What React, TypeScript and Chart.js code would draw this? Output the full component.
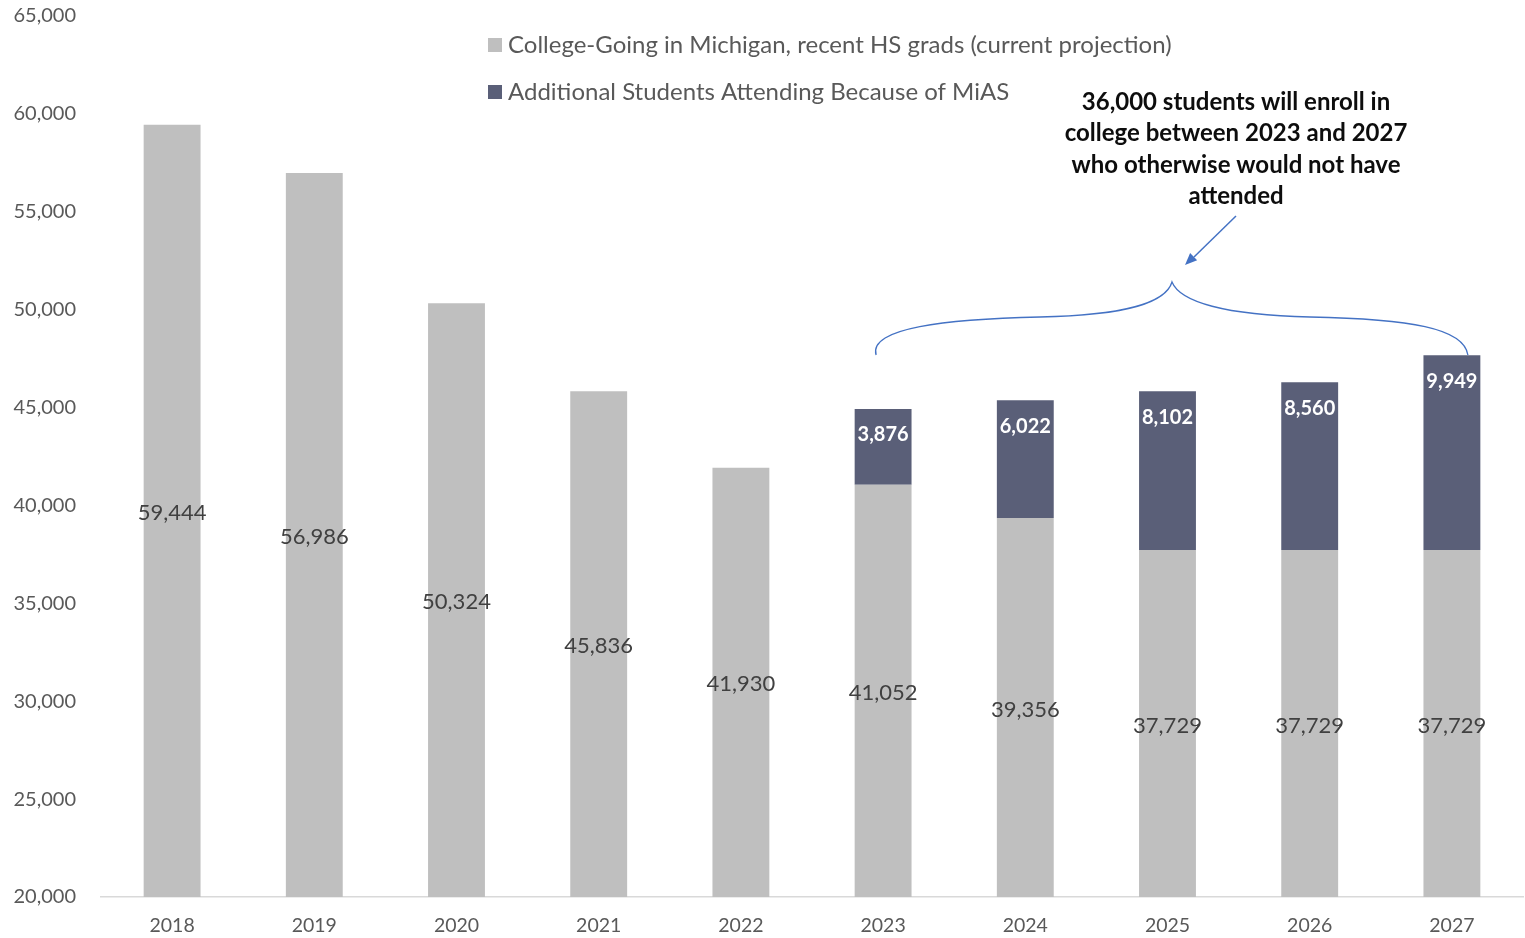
import React, { useEffect, useRef } from "react";
import { Chart, registerables } from "chart.js";

Chart.register(...registerables);

const years = ["2018", "2019", "2020", "2021", "2022", "2023", "2024", "2025", "2026", "2027"];
const collegeGoing = [59444, 56986, 50324, 45836, 41930, 41052, 39356, 37729, 37729, 37729];
const additional = [null, null, null, null, null, 3876, 6022, 8102, 8560, 9949];
const legendLabels = [
  "College-Going in Michigan, recent HS grads (current projection)",
  "Additional Students Attending Because of MiAS",
];
const annotationLines = [
  "36,000 students will enroll in",
  "college between 2023 and 2027",
  "who otherwise would not have",
  "attended",
];
const yMin = 20000;
const yMax = 65000;
const yStep = 5000;

const GREY = "#BFBFBF";
const DARK = "#5A5F78";
const BLUE = "#4472C4";
const FONT = "Lato, 'Open Sans', sans-serif";
const OFF = 21; // canvas is shifted up by this many pixels

const fmt = (v: number) => v.toLocaleString("en-US");

const overlayPlugin = {
  id: "overlay",
  afterDatasetsDraw(chart: any) {
    const ctx = chart.ctx as CanvasRenderingContext2D;
    const y = chart.scales.y;
    const meta0 = chart.getDatasetMeta(0);
    const meta1 = chart.getDatasetMeta(1);
    ctx.save();
    ctx.textAlign = "center";
    ctx.textBaseline = "middle";
    ctx.font = `22px ${FONT}`;
    ctx.fillStyle = "#404040";
    collegeGoing.forEach((v, i) => {
      const el = meta0.data[i];
      const top = y.getPixelForValue(v);
      const bottom = y.getPixelForValue(yMin);
      ctx.fillText(fmt(v), el.x, (top + bottom) / 2 + 2);
    });
    ctx.font = `bold 20px ${FONT}`;
    ctx.fillStyle = "#FFFFFF";
    additional.forEach((v, i) => {
      if (v == null) return;
      const el = meta1.data[i];
      ctx.fillText(fmt(v), el.x, el.y + 26);
    });
    ctx.restore();
  },
  afterDraw(chart: any) {
    const ctx = chart.ctx as CanvasRenderingContext2D;
    const x = chart.scales.x;
    ctx.save();
    ctx.translate(0, OFF);
    const legendColors = [GREY, DARK];
    const legendY = [45, 92];
    ctx.font = `24px ${FONT}`;
    ctx.textAlign = "left";
    ctx.textBaseline = "middle";
    legendLabels.forEach((t, i) => {
      ctx.fillStyle = legendColors[i];
      ctx.fillRect(488, legendY[i] - 7, 14, 14);
      ctx.fillStyle = "#595959";
      ctx.fillText(t, 508, legendY[i]);
    });
    ctx.font = `bold 24px ${FONT}`;
    ctx.fillStyle = "#0D0D0D";
    ctx.textAlign = "center";
    const ty = [102, 133, 165, 196];
    annotationLines.forEach((t, i) => ctx.fillText(t, 1236, ty[i]));
    ctx.strokeStyle = BLUE;
    ctx.fillStyle = BLUE;
    ctx.lineWidth = 1.5;
    ctx.beginPath();
    ctx.moveTo(1236, 216);
    ctx.lineTo(1194, 257);
    ctx.stroke();
    const ax = 1185, ay = 265;
    const ang = Math.atan2(ay - 216, ax - 1236);
    ctx.beginPath();
    ctx.moveTo(ax, ay);
    ctx.lineTo(ax - 13 * Math.cos(ang - 0.4), ay - 13 * Math.sin(ang - 0.4));
    ctx.lineTo(ax - 13 * Math.cos(ang + 0.4), ay - 13 * Math.sin(ang + 0.4));
    ctx.closePath();
    ctx.fill();
    const left = x.getPixelForValue(5) - 7;
    const right = x.getPixelForValue(9) + 16;
    const peak = 1172;
    ctx.lineWidth = 1.3;
    ctx.beginPath();
    ctx.moveTo(left, 355);
    ctx.bezierCurveTo(left - 8, 328, left + 70, 319, 1040, 317);
    ctx.bezierCurveTo(1130, 315, 1166, 302, peak, 282);
    ctx.bezierCurveTo(1180, 302, 1225, 315, 1310, 317);
    ctx.bezierCurveTo(1410, 319, right - 4, 328, right, 355);
    ctx.stroke();
    ctx.restore();
  },
};

export default function App() {
  const ref = useRef<HTMLCanvasElement | null>(null);
  useEffect(() => {
    if (!ref.current) return;
    const chart = new Chart(ref.current, {
      type: "bar",
      data: {
        labels: years,
        datasets: [
          {
            label: legendLabels[0],
            data: collegeGoing,
            backgroundColor: GREY,
            barPercentage: 0.4,
            categoryPercentage: 1,
          },
          {
            label: legendLabels[1],
            data: additional as any,
            backgroundColor: DARK,
            barPercentage: 0.4,
            categoryPercentage: 1,
          },
        ],
      },
      options: {
        responsive: false,
        animation: false,
        layout: { padding: { top: 0, right: 2, left: 0, bottom: 0 } },
        plugins: {
          legend: { display: false },
          tooltip: { enabled: false },
        },
        scales: {
          x: {
            stacked: true,
            grid: { display: false, drawTicks: false },
            border: { color: "#D9D9D9", width: 1.5 },
            ticks: { color: "#595959", font: { family: FONT, size: 19.5 }, padding: 17 },
            afterFit: (s: any) => {
              s.height = 41;
            },
          },
          y: {
            stacked: true,
            min: yMin,
            max: yMax,
            grid: { display: false, drawTicks: false },
            border: { display: false },
            ticks: {
              stepSize: yStep,
              color: "#595959",
              font: { family: FONT, size: 20 },
              padding: 25,
              callback: (v: any) => fmt(Number(v)),
            },
            afterFit: (s: any) => {
              s.width = 101;
            },
          },
        },
      },
      plugins: [overlayPlugin],
    });
    return () => chart.destroy();
  }, []);
  return (
    <div style={{ position: "absolute", left: 0, top: 0, width: 1525, height: 938, overflow: "hidden", background: "#fff" }}>
      <canvas
        ref={ref}
        width={1525}
        height={938 + OFF}
        style={{ display: "block", position: "absolute", left: 0, top: -OFF }}
      />
    </div>
  );
}
